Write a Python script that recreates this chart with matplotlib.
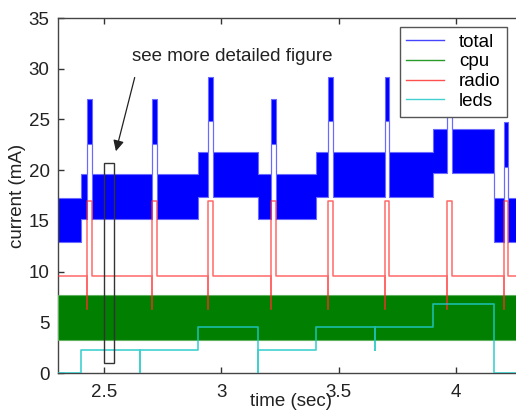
import numpy as np
import matplotlib
matplotlib.use("Agg")
import matplotlib.pyplot as plt
from matplotlib.patches import Rectangle

plt.rcParams['font.family'] = ['Liberation Sans', 'DejaVu Sans']

# --- data (time in sec, current in mA) ---
t_start, t_end = 2.303, 4.29

cpu_low, cpu_high = 3.3, 7.7

radio_base = 9.6
radio_peak = 17.0
radio_dip = 6.3
spike_starts = [2.427, 2.704, 2.943, 3.213, 3.455, 3.697, 3.963, 4.203]
spike_width = 0.019

# leds: repeated times are momentary glitches in the logged trace
led_times = [2.303, 2.40, 2.654, 2.654, 2.90, 3.154, 3.154, 3.404, 3.654, 3.654, 3.90, 4.16, 4.29]
led_values = [0.0, 2.3, 0.0, 2.3, 4.5, 0.0, 2.3, 4.5, 2.3, 4.5, 6.8, 0.0, 0.0]

xticks = [2.5, 3, 3.5, 4]
xtick_labels = ["2.5", "3", "3.5", "4"]
yticks = [0, 5, 10, 15, 20, 25, 30, 35]

# zoom box + annotation (data coords)
box_x0, box_x1, box_y0, box_y1 = 2.500, 2.543, 1.0, 20.7
note_text = "see more detailed figure"
note_xy = (2.62, 31.2)
arrow_tail = (2.633, 29.4)
arrow_head = (2.547, 21.6)

FS = 13.5


def led_level(t):
    # settled led value at time t (glitches ignored)
    i = np.searchsorted(led_times, t, side='right') - 1
    return led_values[max(i, 0)]


def radio_level(t):
    for s in spike_starts:
        if s <= t < s + spike_width:
            return radio_peak
    return radio_base


# radio trace
radio_x = [t_start]
radio_y = [radio_base]
for s in spike_starts:
    radio_x += [s, s, s, s + spike_width, s + spike_width]
    radio_y += [radio_base, radio_dip, radio_peak, radio_peak, radio_base]
radio_x.append(t_end)
radio_y.append(radio_base)

# total = cpu + radio + leds (cpu toggles fast, so it shows as a band)
breaks = sorted(set(led_times) | set(spike_starts) |
                {s + spike_width for s in spike_starts} | {t_start, t_end})
breaks = np.array(breaks)
base = np.array([radio_level(t) + led_level(t) for t in breaks])
total_lo = cpu_low + base
total_hi = cpu_high + base

fig = plt.figure(figsize=(5.16, 4.12), dpi=100)
W, H = 516, 412
ax = fig.add_axes([58 / W, (H - 373) / H, (524 - 58) / W, (373 - 18) / H])

ax.fill_between(breaks, total_lo, total_hi, step='post', facecolor='#0000ff',
                edgecolor='#6a6aff', linewidth=0.8, zorder=2)
ax.fill_between([t_start, t_end], [cpu_low] * 2, [cpu_high] * 2, facecolor='#007f00',
                edgecolor='#60b060', linewidth=0.8, zorder=3)
ax.plot(radio_x, radio_y, color='#ff2a2a', lw=1.1, alpha=0.7, zorder=4)
ax.step(led_times, led_values, where='post', color='#20c8c8', lw=1.2, alpha=0.85, zorder=5)

# legend proxies
ax.plot([], [], color='#4545ff', lw=1.0, label='total')
ax.plot([], [], color='#2a9a2a', lw=1.0, label='cpu')
ax.plot([], [], color='#ff5050', lw=1.0, label='radio')
ax.plot([], [], color='#40d0d0', lw=1.0, label='leds')
leg = ax.legend(loc='upper right', bbox_to_anchor=(507 / W, 1 - 27 / H),
                bbox_transform=fig.transFigure, fontsize=FS, frameon=True,
                fancybox=False, framealpha=1, edgecolor='#555555',
                handlelength=2.0, handletextpad=0.8, borderpad=0.35,
                labelspacing=0.14, borderaxespad=0)
leg.get_frame().set_linewidth(1.0)
leg.set_zorder(10)

ax.add_patch(Rectangle((box_x0, box_y0), box_x1 - box_x0, box_y1 - box_y0,
                       fill=False, edgecolor='#333333', lw=1.0, zorder=6))
ax.annotate('', xy=arrow_head, xytext=arrow_tail,
            arrowprops=dict(arrowstyle='-|>', color='#222222', lw=0.9,
                            mutation_scale=16), zorder=7)
ax.text(note_xy[0], note_xy[1], note_text, fontsize=FS, color='#222222',
        va='center', ha='left')

ax.set_xlim(t_start, t_end)
ax.set_ylim(0, 35)
ax.set_xticks(xticks)
ax.set_xticklabels(xtick_labels)
ax.set_yticks(yticks)
ax.tick_params(direction='in', top=True, right=True, length=4, width=1,
               labelsize=FS, colors='#333333', labelcolor='#222222')
ax.tick_params(axis='x', pad=8)
ax.tick_params(axis='y', pad=6)
for sp in ax.spines.values():
    sp.set_color('#444444')
    sp.set_linewidth(1.0)

# the reference's x label sits partly over the 3.5 tick label
ax.set_xlabel('time (sec)', fontsize=FS, color='#222222', labelpad=-6)
ax.set_ylabel('current (mA)', fontsize=FS, color='#222222', labelpad=2)

fig.savefig('out.png', dpi=100)
